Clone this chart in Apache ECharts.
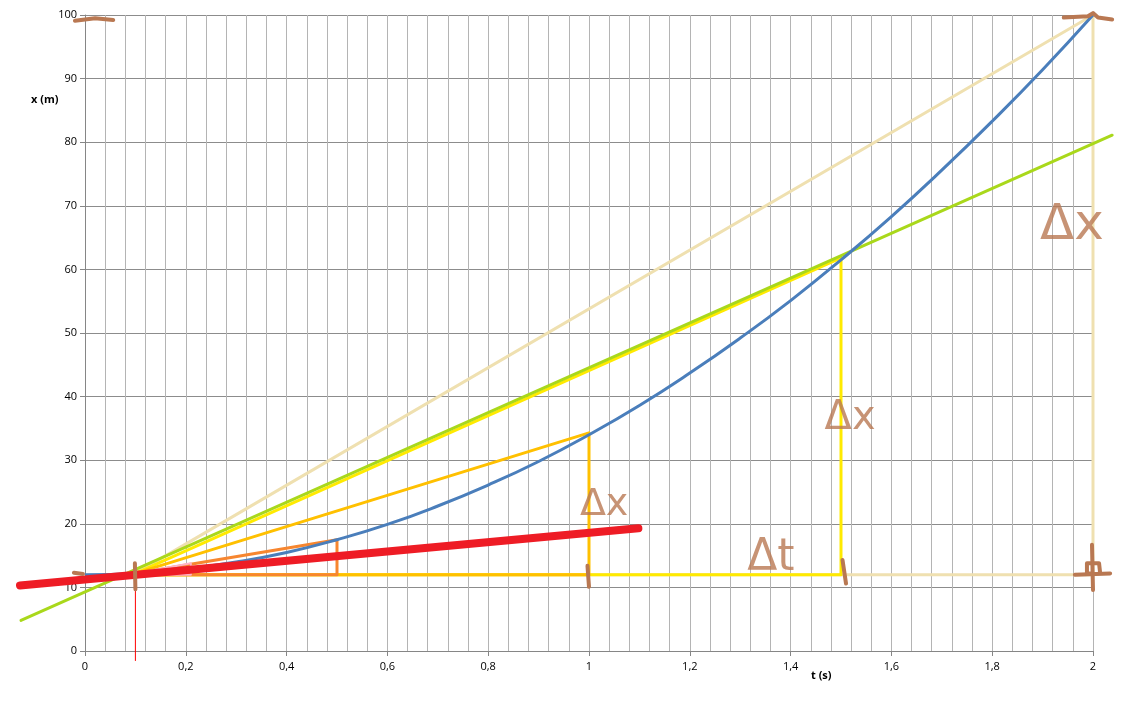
<!DOCTYPE html>
<html>
<head>
<meta charset="utf-8">
<script src="https://cdn.jsdelivr.net/npm/echarts@6/dist/echarts.min.js"></script>
<style>html,body{margin:0;padding:0;background:#fff}#c{width:1127px;height:715px}</style>
</head>
<body>
<div id="c"></div>
<script>
// ---- data ----
var curveT = [0,0.1,0.2,0.3,0.4,0.5,0.6,0.7,0.8,0.9,1.0,1.1,1.2,1.3,1.4,1.5,1.6,1.7,1.8,1.9,2.0];
var curveX = [12,12.2,12.9,14,15.5,17.5,19.9,22.8,26.1,29.8,34,38.6,43.7,49.2,55.1,61.5,68.3,75.6,83.3,91.4,100];

var beigeTri  = [[0.1,12.2],[2,100],[2,12],[0.1,12]];
var yellowTri = [[0.1,12.2],[1.5,61.8],[1.5,12],[0.1,12]];
var goldTri   = [[0.1,12.2],[1,34.3],[1,12],[0.1,12]];
var orangeTri = [[0.1,12.2],[0.5,17.5],[0.5,12],[0.1,12]];
var pinkTri   = [[0.1,12.2],[0.21,13.8],[0.21,12],[0.1,12]];
var greenLine = [[-0.127,4.8],[2.038,81.1]];
var redThick  = [[-0.129,10.3],[1.098,19.3]];
var redThin   = [[0.1,12.2],[0.1,-1.5]];

var inkStrokes = [
  [[-0.02,99.1],[0.0,99.3],[0.02,99.5],[0.056,99.2]],
  [[1.942,99.6],[1.99,99.8],[2.0,100.3],[2.01,99.6],[2.038,99.3]],
  [[-0.022,12.3],[-0.004,12.1]],
  [[0.099,13.8],[0.1,9.7]],
  [[0.997,13.4],[1.0,10.1]],
  [[1.503,14.3],[1.51,10.6]],
  [[1.998,16.7],[2.0,9.6]],
  [[1.964,12.0],[2.034,12.2]],
  [[1.995,12.2],[1.988,12.2],[1.988,13.8],[2.012,13.8],[2.014,12.4]]
];
var inkLabels = ['Δx','Δx','Δx','Δt'];
var inkLabelAt = [[1.958,66.8],[1.518,36.6],[1.03,23.0],[1.361,14.6]];
var inkLabelSize = [50,40,38,44];

var xTicks = {min:0,max:2,interval:0.2};
var yTicks = {min:0,max:100,interval:10};

// ---- chart ----
var chart = echarts.init(document.getElementById('c'));
var FONT = 'Open Sans';
var INK = '#b97852';
function poly(data,color,width,z){
  return {type:'line',data:data,symbol:'none',silent:true,animation:false,z:z||2,
    lineStyle:{color:color,width:width,cap:'round',join:'round'}};
}
// free polyline through the axes' scales, not clipped to the plot area
function freePoly(points,color,width,z){
  return {type:'custom',coordinateSystem:'cartesian2d',clip:false,silent:true,animation:false,z:z,
    data:[points[0]],
    renderItem:function(params,api){
      return {type:'polyline',shape:{points:points.map(function(p){return api.coord(p);})},
        style:{stroke:color,lineWidth:width,fill:null,lineCap:'round',lineJoin:'round'}};
    }};
}
var series = [
  poly(beigeTri,'#efe0b0',3,2),
  poly(yellowTri,'#ffea00',3,2),
  freePoly(greenLine,'#a9d81b',3,3),
  poly(goldTri,'#ffc000',3,3),
  poly(orangeTri,'#f7862f',3,3),
  poly(pinkTri,'#ffb3c6',2,3),
  {type:'line',data:curveT.map(function(t,i){return [t,curveX[i]];}),symbol:'none',smooth:true,
    silent:true,animation:false,z:4,lineStyle:{color:'#4a7ebb',width:3}},
  freePoly(redThick,'#ee1c25',8,5),
  freePoly(redThin,'#ff0000',1,5)
];
inkStrokes.forEach(function(s){ series.push(freePoly(s,INK,4,6)); });
series.push({type:'scatter',symbolSize:0,silent:true,animation:false,z:7,clip:false,
  data:inkLabelAt.map(function(p,i){return {value:p,name:inkLabels[i],
    label:{show:true,position:'inside',formatter:inkLabels[i],color:INK,
      fontFamily:'DejaVu Sans',fontSize:inkLabelSize[i]}};})
});

chart.setOption({
  backgroundColor:'#fff',
  animation:false,
  grid:{left:85,right:34,top:15,bottom:64,containLabel:false},
  xAxis:{type:'value',min:xTicks.min,max:xTicks.max,interval:xTicks.interval,
    axisLine:{show:true,onZero:false,lineStyle:{color:'#868686',width:1}},
    axisTick:{show:true,length:5,lineStyle:{color:'#868686'}},
    axisLabel:{margin:10,color:'#000',fontFamily:FONT,fontSize:11,
      formatter:function(v){return String(Math.round(v*10)/10).replace('.',',');}},
    splitLine:{show:true,lineStyle:{color:'#b4b4b4',width:1}},
    minorTick:{show:false,splitNumber:5},
    minorSplitLine:{show:true,lineStyle:{color:'#b4b4b4',width:1}}
  },
  yAxis:{type:'value',min:yTicks.min,max:yTicks.max,interval:yTicks.interval,
    axisLine:{show:true,lineStyle:{color:'#868686',width:1}},
    axisTick:{show:true,length:5,lineStyle:{color:'#868686'}},
    axisLabel:{margin:8,color:'#000',fontFamily:FONT,fontSize:11},
    splitLine:{show:true,lineStyle:{color:'#8c8c8c',width:1}}
  },
  graphic:[
    {type:'text',left:31,top:94,style:{text:'x (m)',fill:'#000',font:'bold 11px "Open Sans"'}},
    {type:'text',left:811,top:670,style:{text:'t (s)',fill:'#000',font:'bold 11px "Open Sans"'}}
  ],
  series:series
});
</script>
</body>
</html>
